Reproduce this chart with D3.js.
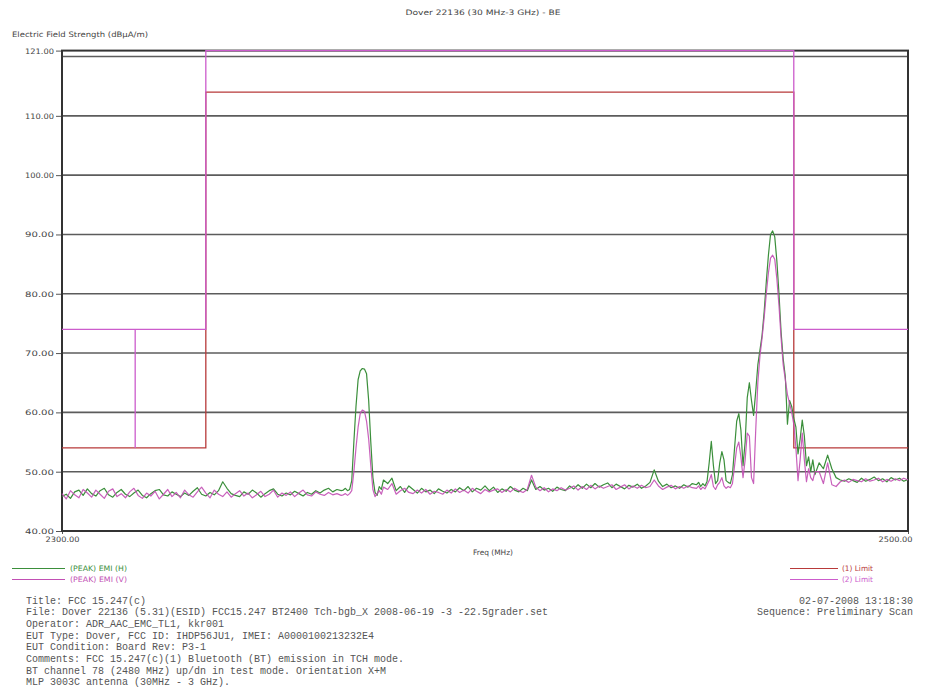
<!DOCTYPE html>
<html>
<head>
<meta charset="utf-8">
<script src="https://cdn.jsdelivr.net/npm/d3@7"></script>
<style>
  html, body { margin: 0; padding: 0; background: #fff; }
  svg { display: block; }
</style>
</head>
<body>
<svg id="chart" width="928" height="694"></svg>
<script>
// ---------------- DATA ----------------
const chartTitle = "Dover 22136 (30 MHz-3 GHz) - BE";
const yAxisTitle = "Electric Field Strength (dBµA/m)";
const xAxisTitle = "Freq (MHz)";
const yTickValues = [40, 50, 60, 70, 80, 90, 100, 110, 121];
const yGridValues = [50, 60, 70, 80, 90, 100, 110, 120];
const xTickValues = [2300, 2500];

const freq = [
  2300,2301,2302,2303,2304,2305,2306,2307,2308,2309,
  2310,2311,2312,2313,2314,2315,2316,2317,2318,2319,
  2320,2321,2322,2323,2324,2325,2326,2327,2328,2329,
  2330,2331,2332,2333,2334,2335,2336,2337,2338,2339,
  2340,2341,2342,2343,2344,2345,2346,2347,2348,2349,
  2350,2351,2352,2353,2354,2355,2356,2357,2358,2359,
  2360,2361,2362,2363,2364,2365,2366,
  2366.5,2367,2367.5,2368,2368.5,2369,2369.5,2370,2370.5,2371,
  2371.5,2372,2372.5,2373,2373.5,2374,2374.5,2375,2375.5,2376,
  2377,2378,2379,2380,2381,2382,2383,2384,2385,2386,
  2387,2388,2389,2390,2391,2392,2393,2394,2395,2396,
  2397,2398,2399,2400,2401,2402,2403,2404,2405,2406,
  2407,2408,2409,2410,2411,2412,2413,2414,2415,2416,
  2417,2418,2419,2420,2421,2422,2423,2424,2425,2426,
  2427,2428,2429,2430,2431,2432,2433,2434,2435,2436,
  2437,2438,2439,2440,2441,2442,2443,2444,2445,2446,
  2447,2448,2449,
  2450,2450.5,2451,2451.5,2452,2452.5,2453,2453.5,2454,2454.5,
  2455,2455.5,2456,2456.5,2457,2457.5,2458,2458.5,2459,2459.5,
  2460,2460.5,2461,2461.5,2462,2462.5,2463,2463.5,2464,2464.5,
  2465,2465.5,2466,2466.5,2467,2467.5,2468,2468.5,2469,2469.5,
  2470,2470.5,2471,2471.5,2472,2472.5,2473,2473.5,2474,2474.5,
  2475,2475.5,2476,2476.5,2477,2477.5,2478,
  2479,2480,2481,2482,2483,2484,2485,2486,2487,2488,
  2489,2490,2491,2492,2493,2494,2495,2496,2497,2498,
  2499,2500
];

// (PEAK) EMI (H)
const emiH = [
  45.8,46.2,45.5,46.6,46.9,46.0,47.1,46.3,45.9,46.8,
  47.2,46.1,45.7,46.5,47.0,46.2,45.8,46.4,46.9,46.0,
  45.6,46.3,46.8,47.0,46.1,45.9,46.6,46.2,45.8,46.4,
  46.0,46.7,47.3,46.2,45.9,46.5,46.1,46.8,48.3,47.2,
  46.3,46.0,45.8,46.6,46.2,46.9,46.4,45.7,46.3,46.8,
  47.1,46.2,45.9,46.4,46.1,46.7,46.3,45.9,46.5,46.2,
  46.8,46.4,46.9,47.2,46.6,47.0,46.8,
  46.9,47.2,46.8,47.0,48.5,55.0,61.0,65.5,67.0,67.4,
  67.3,66.5,62.0,55.0,49.0,46.5,46.0,47.5,47.0,48.6,
  48.0,48.9,46.8,47.5,46.5,47.6,47.0,46.4,47.2,46.6,
  46.9,46.3,47.1,46.7,46.4,47.0,46.6,47.3,46.8,47.5,
  46.6,47.2,46.9,47.6,46.8,47.4,46.5,47.1,46.7,47.5,
  46.9,46.6,47.2,46.8,48.6,47.0,47.5,46.9,47.2,46.7,
  47.4,47.0,46.8,47.6,47.1,47.8,47.2,47.9,47.3,48.0,
  47.4,47.8,48.1,47.3,47.9,47.5,47.1,47.7,47.4,47.9,
  47.2,47.6,48.2,50.3,48.4,47.5,47.9,47.3,47.6,47.2,
  47.8,47.4,48.0,
  47.8,48.2,47.5,48.0,47.6,48.4,51.5,55.1,51.0,48.0,
  48.5,51.5,53.4,52.0,48.5,48.2,48.0,49.5,54.0,58.5,
  59.8,57.0,51.0,55.0,62.5,65.0,62.0,59.5,63.5,68.0,
  70.5,73.0,77.0,82.0,86.5,90.0,90.6,89.6,85.5,80.0,
  73.5,69.0,66.0,58.0,62.0,61.0,59.0,57.5,53.0,55.5,
  58.7,56.0,51.0,52.5,50.0,52.0,49.5,
  51.5,50.5,52.8,50.5,49.0,48.6,48.4,48.8,48.5,48.2,
  48.9,48.4,48.7,49.1,48.5,48.8,48.3,49.0,48.6,48.9,
  48.4,48.7
];

// (PEAK) EMI (V)
const emiV = [
  46.3,45.4,46.8,46.1,45.6,47.0,46.4,45.7,46.9,46.2,
  45.5,46.7,47.1,45.8,46.3,45.6,46.6,47.2,46.0,45.5,
  46.4,45.9,46.7,45.4,46.2,47.0,45.8,46.5,45.6,46.9,
  46.1,45.7,46.6,47.4,46.4,45.6,46.9,46.2,45.8,46.6,
  45.7,46.3,46.8,45.9,46.4,45.6,46.1,46.7,45.8,46.2,
  46.9,45.7,46.4,46.0,46.6,45.8,46.4,46.9,46.1,45.9,
  46.6,46.2,46.0,46.5,46.1,46.3,46.0,
  46.1,46.3,46.0,46.3,46.8,50.0,54.0,57.5,59.8,60.4,
  60.2,58.5,55.5,51.0,47.0,45.8,46.3,46.8,46.2,47.4,
  47.0,48.0,46.2,46.8,47.2,46.5,46.3,46.9,46.4,47.0,
  46.2,46.7,46.5,46.2,46.9,46.4,47.1,46.5,46.9,46.4,
  47.2,46.7,46.3,47.0,46.6,46.9,47.1,46.5,47.0,46.6,
  47.2,46.8,46.5,47.0,49.4,47.4,46.8,47.3,46.6,47.1,
  46.8,47.3,46.9,47.2,47.6,46.9,47.5,47.0,47.7,47.1,
  47.6,47.2,47.5,47.8,47.0,47.4,47.8,47.1,47.6,47.2,
  47.7,47.3,47.5,48.6,47.6,47.0,47.4,47.7,47.1,47.5,
  47.2,47.6,47.3,
  47.2,47.6,47.0,47.4,47.1,47.8,48.5,49.5,47.5,47.0,
  47.8,48.2,49.0,47.6,47.2,47.5,47.3,48.0,51.0,54.0,
  55.0,52.5,49.0,52.0,56.5,56.0,49.0,48.0,57.0,65.0,
  69.5,72.5,76.0,80.0,83.5,86.0,86.5,85.8,82.5,78.0,
  72.5,68.0,65.5,63.0,61.5,60.0,58.0,54.0,48.5,52.0,
  56.5,52.0,48.3,50.5,49.0,48.5,50.0,
  50.0,48.0,51.5,47.8,47.5,48.3,48.6,48.2,48.7,48.5,
  48.3,48.8,48.4,48.6,48.9,48.3,48.7,48.4,48.8,48.5,
  48.9,48.6
];

// (1) Limit
const limit1Freq = [2300, 2334, 2334, 2473, 2473, 2500];
const limit1Val  = [54, 54, 114, 114, 54, 54];
// (2) Limit
const limit2Freq = [2300, 2334, 2334, 2473, 2473, 2500];
const limit2Val  = [74, 74, 121, 121, 74, 74];
const limit2MarkFreq = [2317.3, 2317.3];
const limit2MarkVal  = [54, 74];

const seriesNames = ["(PEAK) EMI (H)", "(PEAK) EMI (V)"];
const limitNames = ["(1) Limit", "(2) Limit"];

const infoLines = [
  "Title: FCC 15.247(c)",
  "File: Dover 22136 (5.31)(ESID) FCC15.247 BT2400 Tch-bgb_X 2008-06-19 -3 -22.5grader.set",
  "Operator: ADR_AAC_EMC_TL1, kkr001",
  "EUT Type: Dover, FCC ID: IHDP56JU1, IMEI: A0000100213232E4",
  "EUT Condition: Board Rev: P3-1",
  "Comments: FCC 15.247(c)(1) Bluetooth (BT) emission in TCH mode.",
  "BT channel 78 (2480 MHz) up/dn in test mode. Orientation X+M",
  "MLP 3003C antenna (30MHz - 3 GHz)."
];
const infoRight = ["02-07-2008 13:18:30", "Sequence: Preliminary Scan"];

// ---------------- STYLE ----------------
const cGreen = "#3b8f3b";
const cMagenta = "#c24fb4";
const cLimitRed = "#b83a3a";
const cLimitMag = "#cc5ccc";
const cText = "#444";
const cInfo = "#555";
const sansFont = "'DejaVu Sans', 'Liberation Sans', sans-serif";

// ---------------- DRAW ----------------
const svg = d3.select("#chart");
const x = d3.scaleLinear().domain([2300, 2500]).range([62, 908]);
const y = d3.scaleLinear().domain([40, 121]).range([531, 50.6]);

// title
svg.append("text").attr("x", 483).attr("y", 15).attr("text-anchor", "middle")
  .attr("font-family", sansFont).attr("font-size", 7.5).attr("fill", cText)
  .attr("textLength", 155).attr("lengthAdjust", "spacingAndGlyphs")
  .text(chartTitle);

// y axis title
svg.append("text").attr("x", 12).attr("y", 36.5)
  .attr("font-family", sansFont).attr("font-size", 7.5).attr("fill", cText)
  .attr("textLength", 136).attr("lengthAdjust", "spacingAndGlyphs")
  .text(yAxisTitle);

// grid
svg.append("g").selectAll("line").data(yGridValues).join("line")
  .attr("x1", x(2300)).attr("x2", x(2500))
  .attr("y1", d => y(d)).attr("y2", d => y(d))
  .attr("stroke", "#5c5c5c").attr("stroke-width", 1.6);

// y axis
const yAxis = svg.append("g").attr("transform", `translate(${x(2300)},0)`)
  .call(d3.axisLeft(y).tickValues(yTickValues).tickFormat(d3.format(".2f")).tickSize(6).tickPadding(2));
yAxis.select(".domain").remove();
yAxis.selectAll(".tick line").attr("stroke", "#555").attr("stroke-width", 1);
yAxis.selectAll(".tick text").attr("font-family", sansFont).attr("font-size", 7.5)
  .attr("fill", cText).attr("textLength", 29).attr("lengthAdjust", "spacingAndGlyphs");

// x axis
const xAxis = svg.append("g").attr("transform", `translate(0,${y(40)})`)
  .call(d3.axisBottom(x).tickValues(xTickValues).tickFormat(d3.format(".2f")).tickSize(3).tickPadding(3));
xAxis.select(".domain").remove();
xAxis.selectAll(".tick line").attr("stroke", "#555");
xAxis.selectAll(".tick text").attr("font-family", sansFont).attr("font-size", 7.5)
  .attr("fill", cText).attr("textLength", 34).attr("lengthAdjust", "spacingAndGlyphs")
  .attr("text-anchor", d => d === 2500 ? "end" : "middle")
  .attr("dx", d => d === 2500 ? 4 : 0);

svg.append("text").attr("x", 493).attr("y", 555).attr("text-anchor", "middle")
  .attr("font-family", sansFont).attr("font-size", 7.5).attr("fill", cText)
  .attr("textLength", 40).attr("lengthAdjust", "spacingAndGlyphs")
  .text(xAxisTitle);

// frame
svg.append("rect").attr("x", x(2300)).attr("y", y(121))
  .attr("width", x(2500) - x(2300)).attr("height", y(40) - y(121))
  .attr("fill", "none").attr("stroke", "#333").attr("stroke-width", 2);

// limits
const lineGen = d3.line().x(d => x(d[0])).y(d => y(d[1]));
svg.append("path").datum(d3.zip(limit1Freq, limit1Val)).attr("d", lineGen)
  .attr("fill", "none").attr("stroke", cLimitRed).attr("stroke-width", 1.3);
svg.append("path").datum(d3.zip(limit2Freq, limit2Val)).attr("d", lineGen)
  .attr("fill", "none").attr("stroke", cLimitMag).attr("stroke-width", 1.3);
svg.append("path").datum(d3.zip(limit2MarkFreq, limit2MarkVal)).attr("d", lineGen)
  .attr("fill", "none").attr("stroke", cLimitMag).attr("stroke-width", 1.3);

// traces
svg.append("path").datum(d3.zip(freq, emiH)).attr("d", lineGen)
  .attr("fill", "none").attr("stroke", cGreen).attr("stroke-width", 1.2)
  .attr("stroke-linejoin", "round");
svg.append("path").datum(d3.zip(freq, emiV)).attr("d", lineGen)
  .attr("fill", "none").attr("stroke", cMagenta).attr("stroke-width", 1.2)
  .attr("stroke-linejoin", "round").attr("stroke-opacity", 0.9);

// legends
const legL = [
  { name: seriesNames[0], color: cGreen, y: 568 },
  { name: seriesNames[1], color: cMagenta, y: 579 }
];
const legR = [
  { name: limitNames[0], color: cLimitRed, y: 567.5 },
  { name: limitNames[1], color: cLimitMag, y: 579 }
];
const gl = svg.append("g");
gl.selectAll("line").data(legL).join("line")
  .attr("x1", 12).attr("x2", 65).attr("y1", d => d.y + 0.5).attr("y2", d => d.y + 0.5)
  .attr("stroke", d => d.color).attr("stroke-width", 1);
gl.selectAll("text").data(legL).join("text")
  .attr("x", 70).attr("y", d => d.y + 3).attr("fill", d => d.color)
  .attr("font-family", sansFont).attr("font-size", 7.5)
  .attr("textLength", 57).attr("lengthAdjust", "spacingAndGlyphs")
  .text(d => d.name);
const gr = svg.append("g");
gr.selectAll("line").data(legR).join("line")
  .attr("x1", 790).attr("x2", 838).attr("y1", d => Math.round(d.y) + 0.5).attr("y2", d => Math.round(d.y) + 0.5)
  .attr("stroke", d => d.color).attr("stroke-width", 1);
gr.selectAll("text").data(legR).join("text")
  .attr("x", 842).attr("y", d => d.y + 3).attr("fill", d => d.color)
  .attr("font-family", sansFont).attr("font-size", 7.5)
  .attr("textLength", 31).attr("lengthAdjust", "spacingAndGlyphs")
  .text(d => d.name);

// info text
const monoFont = "'Liberation Mono', 'DejaVu Sans Mono', monospace";
svg.append("g").selectAll("text").data(infoLines).join("text")
  .attr("x", 26).attr("y", (d, i) => 603.5 + i * 11.7)
  .attr("font-family", monoFont).attr("font-size", 10).attr("fill", cInfo)
  .style("white-space", "pre")
  .text(d => d);
svg.append("g").selectAll("text").data(infoRight).join("text")
  .attr("x", 913).attr("y", (d, i) => 603.5 + i * 11.7).attr("text-anchor", "end")
  .attr("font-family", monoFont).attr("font-size", 10).attr("fill", cInfo)
  .text(d => d);
</script>
</body>
</html>
